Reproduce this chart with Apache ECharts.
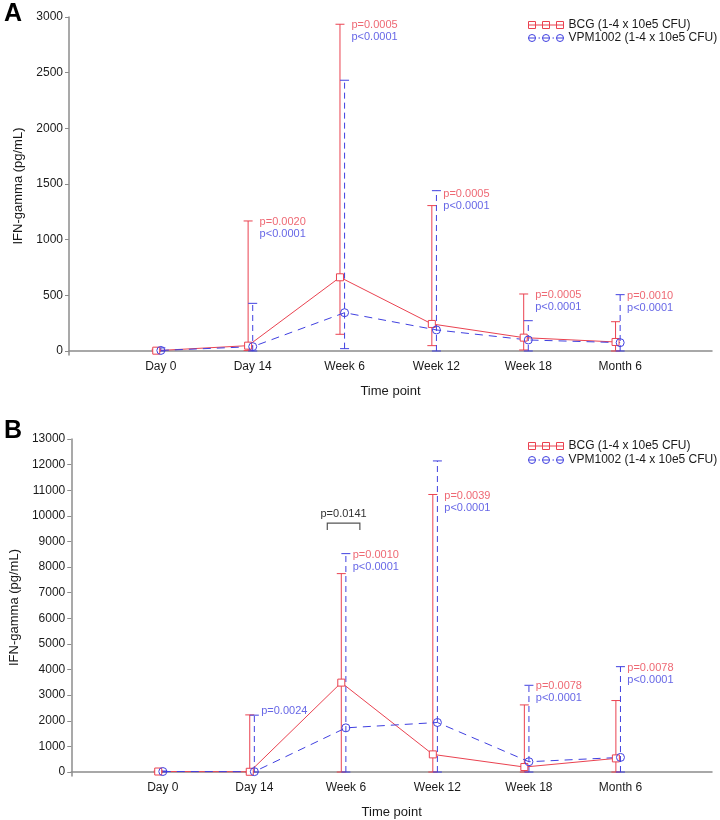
<!DOCTYPE html>
<html>
<head>
<meta charset="utf-8">
<script src="https://cdn.jsdelivr.net/npm/echarts@6/dist/echarts.min.js"></script>
<style>html,body{margin:0;padding:0;background:#fff;}#c{width:720px;height:820px;}</style>
</head>
<body>
<div id="c"></div>
<script>
// ---- data ----
var categories = ['Day 0', 'Day 14', 'Week 6', 'Week 12', 'Week 18', 'Month 6'];
var seriesNames = ['BCG (1-4 x 10e5 CFU)', 'VPM1002 (1-4 x 10e5 CFU)'];

// Panel A
var aBcgMedian = [3, 48, 662, 243, 120, 81];
var aBcgLow    = [0, 5, 150, 48, 9, 0];
var aBcgHigh   = [15, 1168, 2935, 1306, 512, 263];
var aVpmMedian = [5, 39, 344, 189, 99, 75];
var aVpmLow    = [0, 0, 21, 0, 0, 0];
var aVpmHigh   = [28, 428, 2432, 1440, 272, 506];
var aPvalBcg   = ['', 'p=0.0020', 'p=0.0005', 'p=0.0005', 'p=0.0005', 'p=0.0010'];
var aPvalVpm   = ['', 'p<0.0001', 'p<0.0001', 'p<0.0001', 'p<0.0001', 'p<0.0001'];
var aPvalAt    = [null, 1168, 2935, 1420, 512, 506];
var aTicks     = [0, 500, 1000, 1500, 2000, 2500, 3000];

// Panel B
var bBcgMedian = [20, 10, 3490, 688, 195, 532];
var bBcgLow    = [0, 0, 0, 0, 0, 0];
var bBcgHigh   = [40, 2230, 7745, 10834, 2620, 2790];
var bVpmMedian = [20, 15, 1725, 1934, 402, 571];
var bVpmLow    = [0, 0, 0, 0, 0, 0];
var bVpmHigh   = [40, 2220, 8525, 12144, 3386, 4113];
var bPvalBcg   = ['', '', 'p=0.0010', 'p=0.0039', 'p=0.0078', 'p=0.0078'];
var bPvalVpm   = ['', 'p=0.0024', 'p<0.0001', 'p<0.0001', 'p<0.0001', 'p<0.0001'];
var bPvalAt    = [null, 2420, 8525, 10834, 3386, 4113];
var bTicks     = [0, 1000, 2000, 3000, 4000, 5000, 6000, 7000, 8000, 9000, 10000, 11000, 12000, 13000];
var bBracketCat = 3, bBracketValue = 9720, bBracketText = 'p=0.0141';

// ---- styles ----
var RED = '#ea4250', BLUE = '#4040e0', AXIS = '#8c8c8c', TXT = '#1a1a1a';
var FONT = 'Liberation Sans, Arial, Helvetica, sans-serif';
var RED_OFF = -0.05, BLUE_OFF = 0;

var ICON_RED = 'path://M0.5,4 L35.5,4 M0.5,0.5 L7.5,0.5 L7.5,7.5 L0.5,7.5 Z M14.5,0.5 L21.5,0.5 L21.5,7.5 L14.5,7.5 Z M28.5,0.5 L35.5,0.5 L35.5,7.5 L28.5,7.5 Z';
function circ(cx) { return 'M' + (cx + 3.5) + ',4 A3.5,3.5 0 1 1 ' + (cx - 3.5) + ',4 A3.5,3.5 0 1 1 ' + (cx + 3.5) + ',4 Z '; }
var ICON_BLUE = 'path://' + circ(4) + circ(18) + circ(32) +
  'M0.5,4 L7.5,4 M10.5,4 L12,4 M14.5,4 L21.5,4 M24.5,4 L26,4 M28.5,4 L35.5,4';

function pts(vals, off) { return vals.map(function (v, i) { return [i + 1 + off, v]; }); }
function bars(lo, hi, off) { return lo.map(function (v, i) { return [i + 1 + off, v, hi[i]]; }); }

function errRender(color, dash) {
  return function (params, api) {
    var x = api.value(0);
    var a = api.coord([x, api.value(1)]);
    var b = api.coord([x, api.value(2)]);
    var w = 4.5;
    var st = { stroke: color, lineWidth: 1, lineDash: dash };
    var st2 = { stroke: color, lineWidth: 1 };
    return { type: 'group', children: [
      { type: 'line', shape: { x1: a[0], y1: a[1], x2: b[0], y2: b[1] }, style: st },
      { type: 'line', shape: { x1: a[0] - w, y1: a[1], x2: a[0] + w, y2: a[1] }, style: st2 },
      { type: 'line', shape: { x1: b[0] - w, y1: b[1], x2: b[0] + w, y2: b[1] }, style: st2 }
    ] };
  };
}

function pvalSeries(redTxt, blueTxt, at, gi) {
  var data = [];
  at.forEach(function (v, i) {
    if (v === null) return;
    data.push({ value: [i + 1 + 0.075, v], r: redTxt[i], b: blueTxt[i] });
  });
  return {
    type: 'scatter', xAxisIndex: gi, yAxisIndex: gi, symbolSize: 0, silent: true, z: 5,
    data: data,
    label: {
      show: true, position: [0, -5], align: 'left', verticalAlign: 'top',
      formatter: function (p) {
        var s = [];
        if (p.data.r) s.push('{r|' + p.data.r + '}');
        if (p.data.b) s.push('{b|' + p.data.b + '}');
        return s.join('\n');
      },
      rich: {
        r: { color: RED, fontSize: 11, fontFamily: FONT, lineHeight: 12 },
        b: { color: BLUE, fontSize: 11, fontFamily: FONT, lineHeight: 12 }
      }
    }
  };
}

function panelSeries(gi, bm, bl, bh, vm, vl, vh) {
  return [
    { type: 'custom', xAxisIndex: gi, yAxisIndex: gi, silent: true, z: 2,
      renderItem: errRender(RED, null), data: bars(bl, bh, RED_OFF), encode: { x: 0, y: [1, 2] } },
    { type: 'custom', xAxisIndex: gi, yAxisIndex: gi, silent: true, z: 2,
      renderItem: errRender(BLUE, [6, 4]), data: bars(vl, vh, BLUE_OFF), encode: { x: 0, y: [1, 2] } },
    { name: seriesNames[0], type: 'line', xAxisIndex: gi, yAxisIndex: gi, z: 3,
      data: pts(bm, RED_OFF), symbol: 'rect', symbolSize: 7, showAllSymbol: true,
      itemStyle: { color: '#fff', borderColor: RED, borderWidth: 1 },
      lineStyle: { color: RED, width: 1 }, color: RED },
    { name: seriesNames[1], type: 'line', xAxisIndex: gi, yAxisIndex: gi, z: 3,
      data: pts(vm, BLUE_OFF), symbol: 'circle', symbolSize: 8, showAllSymbol: true,
      itemStyle: { color: 'rgba(255,255,255,0)', borderColor: BLUE, borderWidth: 1 },
      lineStyle: { color: BLUE, width: 1, type: [8, 6] }, color: BLUE }
  ];
}

function xAxis(gi) {
  return {
    type: 'value', gridIndex: gi, min: 0, max: 7,
    name: 'Time point', nameLocation: 'middle', nameGap: 30,
    nameTextStyle: { color: TXT, fontSize: 13, fontFamily: FONT },
    axisLine: { lineStyle: { color: AXIS, width: 1.5 } },
    axisTick: { show: false }, splitLine: { show: false },
    axisLabel: {
      customValues: [1, 2, 3, 4, 5, 6], color: TXT, fontSize: 12, fontFamily: FONT, margin: 6,
      formatter: function (v) { return categories[Math.round(v) - 1] || ''; }
    }
  };
}
function yAxis(gi, min, max, ticks) {
  return {
    type: 'value', gridIndex: gi, min: min, max: max,
    name: 'IFN-gamma (pg/mL)', nameLocation: 'middle', nameGap: gi === 0 ? 41 : 46,
    nameTextStyle: { color: TXT, fontSize: 13, fontFamily: FONT },
    axisLine: { show: true, lineStyle: { color: AXIS, width: 1.5 } },
    axisTick: { show: true, length: 4, customValues: ticks, lineStyle: { color: AXIS } },
    splitLine: { show: false },
    axisLabel: { customValues: ticks, color: TXT, fontSize: 12, fontFamily: FONT, margin: 6,
      formatter: function (v) { return String(v); } }
  };
}

function legend(top, gap) {
  return {
    orient: 'vertical', left: 521, top: top, itemWidth: 35, itemHeight: 7, itemGap: gap,
    data: [
      { name: seriesNames[0], icon: ICON_RED, itemStyle: { color: 'none', borderColor: RED, borderWidth: 1 } },
      { name: seriesNames[1], icon: ICON_BLUE, itemStyle: { color: 'none', borderColor: BLUE, borderWidth: 1 } }
    ],
    textStyle: { color: TXT, fontSize: 12, fontFamily: FONT }
  };
}

var series = []
  .concat(panelSeries(0, aBcgMedian, aBcgLow, aBcgHigh, aVpmMedian, aVpmLow, aVpmHigh))
  .concat(panelSeries(1, bBcgMedian, bBcgLow, bBcgHigh, bVpmMedian, bVpmLow, bVpmHigh))
  .concat([pvalSeries(aPvalBcg, aPvalVpm, aPvalAt, 0), pvalSeries(bPvalBcg, bPvalVpm, bPvalAt, 1)]);

// bracket for week 6 comparison in panel B
series.push({
  type: 'custom', xAxisIndex: 1, yAxisIndex: 1, silent: true, z: 5,
  data: [[bBracketCat - 0.025, bBracketValue]],
  renderItem: function (params, api) {
    var half = 0.178;
    var l = api.coord([api.value(0) - half, api.value(1)]);
    var r = api.coord([api.value(0) + half, api.value(1)]);
    var st = { stroke: '#555', lineWidth: 1.2, fill: null };
    return { type: 'group', children: [
      { type: 'polyline', shape: { points: [[l[0], l[1] + 7], [l[0], l[1]], [r[0], r[1]], [r[0], r[1] + 7]] }, style: st },
      { type: 'text', x: (l[0] + r[0]) / 2, y: l[1] - 4,
        style: { text: bBracketText, fill: '#333', font: '11px ' + FONT, align: 'center', verticalAlign: 'bottom' } }
    ] };
  }
});

var chart = echarts.init(document.getElementById('c'), null, { renderer: 'canvas' });
chart.setOption({
  backgroundColor: '#fff',
  animation: false,
  title: [
    { text: 'A', left: -1, top: -3, textStyle: { fontSize: 25, fontWeight: 'bold', color: '#000', fontFamily: FONT } },
    { text: 'B', left: -1, top: 414, textStyle: { fontSize: 25, fontWeight: 'bold', color: '#000', fontFamily: FONT } }
  ],
  legend: [legend(14, 1), legend(435, 2)],
  grid: [
    { left: 69, right: 8, top: 17, bottom: 465 },
    { left: 70, right: 8, top: 439, bottom: 43 }
  ],
  xAxis: [xAxis(0), xAxis(1)],
  yAxis: [yAxis(0, -36, 3000, aTicks), yAxis(1, -155, 13000, bTicks)],
  series: series
});
</script>
</body>
</html>
